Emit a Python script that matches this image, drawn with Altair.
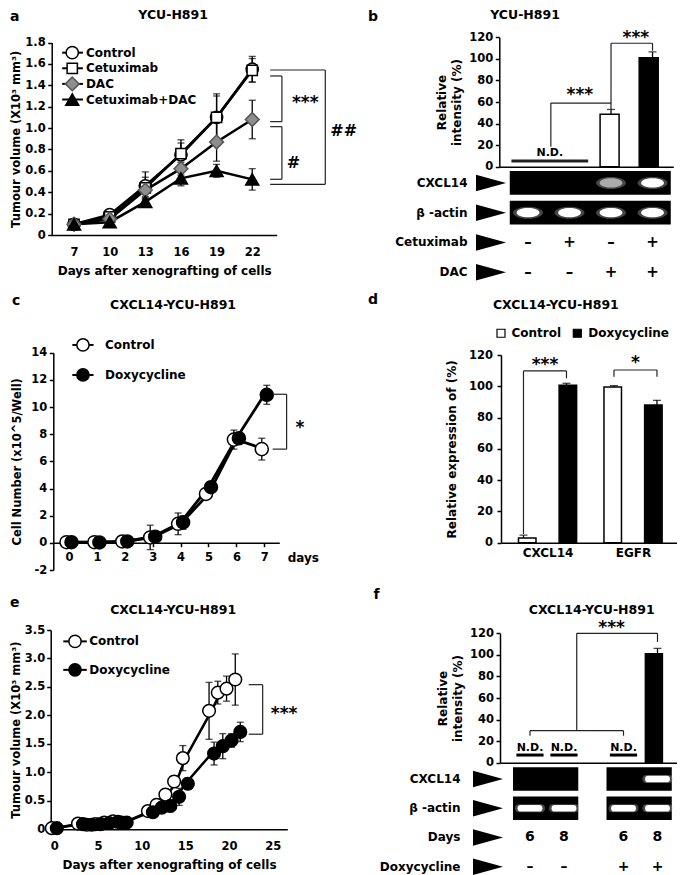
import altair as alt
import pandas as pd

# ---------------- data ----------------
# a: YCU-H891 xenografts
a_days = [7, 10, 13, 16, 19, 22]
a_series = ["Control", "Cetuximab", "DAC", "Cetuximab+DAC"]
a_control = [0.10, 0.19, 0.46, 0.75, 1.10, 1.55]
a_control_err = [0.02, 0.03, 0.13, 0.14, 0.22, 0.12]
a_cetuximab = [0.10, 0.17, 0.44, 0.76, 1.10, 1.54]
a_cetuximab_err = [0.02, 0.03, 0.10, 0.10, 0.20, 0.11]
a_dac = [0.10, 0.15, 0.42, 0.62, 0.87, 1.08]
a_dac_err = [0.02, 0.02, 0.06, 0.06, 0.18, 0.18]
a_combo = [0.10, 0.12, 0.31, 0.53, 0.60, 0.52]
a_combo_err = [0.02, 0.02, 0.04, 0.07, 0.06, 0.10]
a_yticks = [0, 0.2, 0.4, 0.6, 0.8, 1.0, 1.2, 1.4, 1.6, 1.8]

# b: CXCL14 RT-PCR, YCU-H891
b_rows = ["CXCL14", "β -actin", "Cetuximab", "DAC"]
b_cetuximab = ["–", "+", "–", "+"]
b_dac = ["–", "–", "+", "+"]
b_intensity = [None, None, 48.6, 101.0]
b_intensity_err = [None, None, 4.5, 5.5]
b_band_cxcl14 = [0.0, 0.0, 0.7, 1.0]
b_band_actin = [1.0, 1.0, 1.0, 1.0]
pct_ticks = [0, 20, 40, 60, 80, 100, 120]

# c: cell growth in vitro
c_days = [0, 1, 2, 3, 4, 5, 6, 7]
c_series = ["Control", "Doxycycline"]
c_control = [0.05, 0.05, 0.10, 0.40, 1.40, 3.60, 7.60, 6.90]
c_control_err = [0.30, 0.30, 0.40, 0.90, 0.80, 0.30, 0.70, 0.80]
c_doxy = [0.05, 0.03, 0.10, 0.45, 1.50, 4.10, 7.70, 10.90]
c_doxy_err = [0.20, 0.20, 0.20, 0.30, 0.50, 0.30, 0.30, 0.70]
c_yticks = [-2, 0, 2, 4, 6, 8, 10, 12, 14]

# d: relative expression
d_genes = ["CXCL14", "EGFR"]
d_control = [3.0, 99.6]
d_control_err = [1.8, 0.8]
d_doxy = [100.6, 88.0]
d_doxy_err = [1.3, 3.0]

# e: CXCL14-YCU-H891 xenografts
e_days = [0, 3, 4, 5, 6, 7, 8, 11, 12, 13, 14, 15, 18, 19, 20, 21]
e_control = [0.02, 0.10, 0.08, 0.09, 0.12, 0.14, 0.12, 0.32, 0.43, 0.61, 0.84, 1.25, 2.08, 2.40, 2.47, 2.63]
e_control_err = [0.01, 0.02, 0.02, 0.02, 0.02, 0.03, 0.03, 0.05, 0.10, 0.10, 0.10, 0.22, 0.50, 0.20, 0.22, 0.45]
e_doxy = [0.02, 0.09, 0.08, 0.09, 0.11, 0.13, 0.12, 0.30, 0.38, 0.41, 0.57, 0.80, 1.33, 1.46, 1.56, 1.71]
e_doxy_err = [0.01, 0.02, 0.02, 0.02, 0.02, 0.03, 0.03, 0.05, 0.06, 0.10, 0.15, 0.10, 0.20, 0.22, 0.12, 0.17]
e_yticks = [0, 0.5, 1.0, 1.5, 2.0, 2.5, 3.0, 3.5]
e_xticks = [0, 5, 10, 15, 20, 25]

# f: CXCL14 RT-PCR, CXCL14-YCU-H891
f_rows = ["CXCL14", "β -actin", "Days", "Doxycycline"]
f_days = ["6", "8", "6", "8"]
f_doxy = ["–", "–", "+", "+"]
f_intensity = [None, None, None, 101.0]
f_intensity_err = [None, None, None, 5.0]
f_band_cxcl14 = [0.0, 0.0, 0.0, 1.0]
f_band_actin = [1.0, 1.0, 1.0, 1.0]

# ---------------- layout helpers ----------------
W, H = 669, 867
FONT = "DejaVu Sans"
WEDGE = "M-1,-0.55L1,0L-1,0.55Z"
ELLIPSE = "M-1,0A1,0.4,0,1,1,1,0A1,0.4,0,1,1,-1,0Z"
PILL = "M-0.75,-0.27L0.75,-0.27Q1,-0.27 1,0Q1,0.27 0.75,0.27L-0.75,0.27Q-1,0.27 -1,0Q-1,-0.27 -0.75,-0.27Z"
ONE_DEC = "datum.value == 0 ? '0' : format(datum.value, '.1f')"


def px(v):
    return v - 8


def lin(domain, r0, r1):
    return alt.Scale(domain=domain, range=[px(r0), px(r1)], nice=False, zero=False)


def band(domain, r0, r1):
    return alt.Scale(domain=domain, range=[px(r0), px(r1)], paddingInner=0.2, paddingOuter=0.1)


def left_axis(xref, values=None, title=None, **kw):
    d = dict(orient="left", offset=-px(xref), grid=False, title=title)
    if values is not None:
        d["values"] = values
    d.update(kw)
    return alt.Axis(**d)


def bottom_axis(yref, **kw):
    d = dict(orient="bottom", offset=px(yref) - H, grid=False)
    d.update(kw)
    return alt.Axis(**d)


def qx(field, scale, axis=None):
    return alt.X(field, type="quantitative", scale=scale, axis=axis)


def qy(field, scale, axis=None):
    return alt.Y(field, type="quantitative", scale=scale, axis=axis)


def long_table(series, xs, values, errs, xname="day"):
    rows = []
    for s, vs, es in zip(series, values, errs):
        for x, v, e in zip(xs, vs, es):
            rows.append({"series": s, xname: x, "value": v, "lo": v - e, "hi": v + e})
    return pd.DataFrame(rows)


def errbars(df, xf, xs, ys, up_only=False, xoffset=0, cap=7):
    lo = "value" if up_only else "lo"
    rule = alt.Chart(df).mark_rule(color="black", strokeWidth=1.3, xOffset=xoffset).encode(
        x=qx(xf, xs), y=qy(lo, ys), y2="hi:Q")
    fields = ["hi"] if up_only else ["lo", "hi"]
    caps = alt.Chart(df).transform_fold(fields, as_=["k", "cv"]).mark_tick(
        orient="horizontal", color="black", size=cap, thickness=1.3, xOffset=xoffset).encode(
        x=qx(xf, xs), y=qy("cv", ys))
    return [rule, caps]


def segs(seglist, xs, ys, width=1.2):
    df = pd.DataFrame(seglist, columns=["x", "x2", "y", "y2"])
    return alt.Chart(df).mark_rule(color="#222222", strokeWidth=width).encode(
        x=qx("x", xs), x2="x2:Q", y=qy("y", ys), y2="y2:Q")


def rbracket(x0, x1, ytop, ybot):
    return [(x0, x1, ytop, ytop), (x1, x1, ytop, ybot), (x0, x1, ybot, ybot)]


def ubracket(xl, xr, ytop, yl, yr):
    return [(xl, xl, yl, ytop), (xl, xr, ytop, ytop), (xr, xr, ytop, yr)]


def texts(rows, xs, ys, **mark):
    df = pd.DataFrame(rows, columns=["t", "x", "y"])
    return alt.Chart(df).mark_text(**mark).encode(x=qx("x", xs), y=qy("y", ys), text="t:N")


# ---------------- panel a ----------------
xa = lin([5.12, 24.06], 51.7, 276.7)
ya = lin([0, 1.8], 235, 42.5)
a_df = long_table(a_series, a_days, [a_control, a_cetuximab, a_dac, a_combo],
                  [a_control_err, a_cetuximab_err, a_dac_err, a_combo_err])
a_style = {
    "Control": dict(shape="circle", fill="white", stroke="black", size=150),
    "Cetuximab": dict(shape="square", fill="white", stroke="black", size=105),
    "DAC": dict(shape="diamond", fill="#8e8e8e", stroke="#555555", size=190),
    "Cetuximab+DAC": dict(shape="triangle-up", fill="black", stroke="black", size=170),
}
a_layers = [alt.Chart(a_df).mark_line(color="black", strokeWidth=2.5).encode(
    x=qx("day", xa, bottom_axis(235, values=a_days, ticks=False, tickSize=0, labelPadding=11,
                                 title="Days after xenografting of cells", titlePadding=8)),
    y=qy("value", ya, left_axis(51.7, a_yticks, "Tumour volume (X10³ mm³)", labelExpr=ONE_DEC,
                                 tickSize=4, labelPadding=2.5, titlePadding=3, titleFontSize=11.5)),
    detail="series:N")]
a_layers += errbars(a_df, "day", xa, ya)
for s in a_series:
    a_layers.append(alt.Chart(a_df).transform_filter(alt.datum.series == s).mark_point(
        filled=True, opacity=1, strokeWidth=1.5, **a_style[s]).encode(x=qx("day", xa), y=qy("value", ya)))
a_leg = pd.DataFrame({"series": a_series})
a_leg["ly"] = [1.705 - 0.146 * i for i in range(len(a_series))]
a_leg["lx1"], a_leg["lx2"], a_leg["sx"], a_leg["tx"] = 6.0, 7.75, 6.85, 8.0
a_layers.append(alt.Chart(a_leg).mark_rule(color="black", strokeWidth=2).encode(
    x=qx("lx1", xa), x2="lx2:Q", y=qy("ly", ya)))
for s in a_series:
    a_layers.append(alt.Chart(a_leg).transform_filter(alt.datum.series == s).mark_point(
        filled=True, opacity=1, strokeWidth=1.5, **a_style[s]).encode(x=qx("sx", xa), y=qy("ly", ya)))
a_layers.append(alt.Chart(a_leg).mark_text(align="left", baseline="middle", fontSize=12).encode(
    x=qx("tx", xa), y=qy("ly", ya), text="series:N"))
a_layers.append(segs(rbracket(23.51, 24.5, 1.487, 1.06) + rbracket(23.51, 24.5, 1.013, 0.521)
                     + rbracket(23.51, 28.15, 1.543, 0.474), xa, ya))
a_layers.append(texts([("a", 1.62, 2.04)], xa, ya, fontSize=14, align="left"))
a_layers.append(texts([("YCU-H891", 15.34, 2.057)], xa, ya, fontSize=12.5))
a_layers.append(texts([("***", 26.46, 1.277)], xa, ya, fontSize=17, dy=5))
a_layers.append(texts([("#", 25.48, 0.671), ("##", 29.7, 0.97)], xa, ya, fontSize=16))

# ---------------- panel b ----------------
b_lanes = [1, 2, 3, 4]
xb = lin([0.308, 4.501], 499.3, 673.3)
yb = lin([0, 120], 166.7, 37.3)
b_df = pd.DataFrame({"lane": b_lanes, "cetux": b_cetuximab, "dac": b_dac,
                     "value": b_intensity, "err": b_intensity_err})
b_df["hi"] = b_df["value"] + b_df["err"]
b_valid = b_df[b_df["value"].notna()]
b_nd = b_df[b_df["value"].isna()]
b_layers = [alt.Chart(b_valid).mark_bar(width=19, stroke="black", strokeWidth=1.5).encode(
    x=qx("lane", xb, bottom_axis(166.7, labels=False, ticks=False, tickSize=0, title=None)),
    y=qy("value", yb, left_axis(499.3, pct_ticks, ["Relative", "intensity (%)"], tickSize=4,
                                 labelPadding=2.5, titlePadding=5, titleLineHeight=15)),
    y2=alt.Y2(datum=0),
    fill=alt.condition(alt.datum.cetux == "+", alt.value("black"), alt.value("white")))]
b_layers += errbars(b_valid, "lane", xb, yb, up_only=True, cap=8)
nd_x0, nd_x1 = b_nd["lane"].min() - 0.4, b_nd["lane"].max() + 0.45
b_layers.append(segs([(nd_x0, nd_x1, 5.3, 5.3)], xb, yb, width=3))
b_layers.append(texts([("N.D.", (nd_x0 + nd_x1) / 2, 12.4)], xb, yb, fontSize=11))
b_layers.append(segs(ubracket(1.55, 3, 59, 18.5, 52.5) + ubracket(3, 4, 114.5, 59, 107.5), xb, yb))
b_layers.append(texts([("***", 2.25, 71), ("***", 3.6, 123.7)], xb, yb, fontSize=17, dy=5))
b_layers.append(texts([("b", -2.735, 139.0)], xb, yb, fontSize=14))
b_layers.append(texts([("YCU-H891", 0.928, 140.7)], xb, yb, fontSize=12.5))

# gel b
ygb = band(b_rows, 168, 287)
gel_b = pd.DataFrame({"row": b_rows[:2], "x0": b_lanes[0] - 0.44, "x1": b_lanes[-1] + 0.44})
bands_b = pd.DataFrame([{"row": r, "lane": l, "intensity": v}
                        for r, vals in zip(b_rows[:2], [b_band_cxcl14, b_band_actin])
                        for l, v in zip(b_lanes, vals) if v > 0])
arrows_b = pd.DataFrame({"row": b_rows, "ax": 0.108})
signs_b = pd.DataFrame([{"row": r, "lane": l, "t": s}
                        for r, vals in zip(b_rows[2:], [b_cetuximab, b_dac])
                        for l, s in zip(b_lanes, vals)])
gb_layers = [
    alt.Chart(gel_b).mark_rect(color="black").encode(
        x=qx("x0", xb), x2="x1:Q",
        y=alt.Y("row:N", scale=ygb, axis=left_axis(505, title=None, ticks=False, domain=False,
                                                    labelPadding=38, labelFontSize=12))),
    alt.Chart(bands_b).mark_point(shape=ELLIPSE, filled=True, opacity=0.45, color="#9a9a9a", size=900).encode(
        x=qx("lane", xb), y=alt.Y("row:N", scale=ygb, axis=None)),
    alt.Chart(bands_b).mark_point(shape=ELLIPSE, filled=True, opacity=1, size=520, strokeWidth=0).encode(
        x=qx("lane", xb), y=alt.Y("row:N", scale=ygb, axis=None),
        fill=alt.Fill("intensity:Q", scale=alt.Scale(domain=[0, 1], range=["black", "white"]), legend=None)),
    alt.Chart(arrows_b).mark_point(shape=WEDGE, filled=True, opacity=1, color="black", size=900).encode(
        x=qx("ax", xb), y=alt.Y("row:N", scale=ygb, axis=None)),
    alt.Chart(signs_b).mark_text(fontSize=15).encode(
        x=qx("lane", xb), y=alt.Y("row:N", scale=ygb, axis=None), text="t:N"),
]

# ---------------- panel c ----------------
xc = lin([-0.563, 7.538], 53.3, 279.3)
yc = lin([-2, 14], 570, 352.7)
c_df = long_table(c_series, c_days, [c_control, c_doxy], [c_control_err, c_doxy_err])
c_style = {"Control": dict(fill="white", off=-2.5), "Doxycycline": dict(fill="black", off=2.5)}
c_layers = [alt.Chart(c_df).mark_line(color="black", strokeWidth=2.8).encode(
    x=qx("day", xc, bottom_axis(542.7, values=c_days, tickSize=4, labelPadding=5, title=None)),
    y=qy("value", yc, left_axis(53.3, c_yticks, "Cell Number (x10^5/Well)", labelExpr="'' + datum.value",
                                 tickSize=4, labelPadding=2.5, titlePadding=8, titleFontSize=11.5)),
    detail="series:N")]
for s in c_series:
    sub = c_df[c_df["series"] == s]
    c_layers += errbars(sub, "day", xc, yc, xoffset=c_style[s]["off"])
for s in c_series:
    c_layers.append(alt.Chart(c_df).transform_filter(alt.datum.series == s).mark_point(
        shape="circle", filled=True, opacity=1, fill=c_style[s]["fill"], stroke="black", strokeWidth=1.5,
        size=170, xOffset=c_style[s]["off"]).encode(x=qx("day", xc), y=qy("value", yc)))
c_leg = pd.DataFrame({"series": c_series, "ly": [14.57, 12.36]})
c_leg["lx1"], c_leg["lx2"], c_leg["sx"], c_leg["tx"] = 0.12, 0.88, 0.5, 1.29
c_layers.append(alt.Chart(c_leg).mark_rule(color="black", strokeWidth=2).encode(
    x=qx("lx1", xc), x2="lx2:Q", y=qy("ly", yc)))
for s in c_series:
    c_layers.append(alt.Chart(c_leg).transform_filter(alt.datum.series == s).mark_point(
        shape="circle", filled=True, opacity=1, fill=c_style[s]["fill"], stroke="black", strokeWidth=1.5,
        size=150).encode(x=qx("sx", xc), y=qy("ly", yc)))
c_layers.append(alt.Chart(c_leg).mark_text(align="left", baseline="middle", fontSize=12).encode(
    x=qx("tx", xc), y=qy("ly", yc), text="series:N"))
c_layers.append(segs(rbracket(7.3, 7.8, 10.94, 6.9), xc, yc))
c_layers.append(texts([("*", 8.28, 8.8)], xc, yc, fontSize=17, dy=5))
c_layers.append(texts([("days", 8.4, -1.14)], xc, yc, fontSize=12))
c_layers.append(texts([("c", -2.04, 17.81)], xc, yc, fontSize=14, align="left"))
c_layers.append(texts([("CXCL14-YCU-H891", 3.73, 17.51)], xc, yc, fontSize=12.5))

# ---------------- panel d ----------------
xd = lin([-0.486, 1.514], 501, 682)
yd = lin([0, 120], 542.7, 355)
d_off = {"Control": -0.2376, "Doxycycline": 0.2376}
d_rows = []
for s, vals, errs in zip(c_series, [d_control, d_doxy], [d_control_err, d_doxy_err]):
    for g, (v, e) in enumerate(zip(vals, errs)):
        d_rows.append({"series": s, "gene": d_genes[g], "u": g + d_off[s], "value": v, "hi": v + e})
d_df = pd.DataFrame(d_rows)
gene_expr = "[" + ",".join("'" + g + "'" for g in d_genes) + "][datum.value]"
d_layers = [alt.Chart(d_df).mark_bar(width=17.5, stroke="black", strokeWidth=1.5).encode(
    x=qx("u", xd, bottom_axis(542.7, values=list(range(len(d_genes))), labelExpr=gene_expr, ticks=False,
                               tickSize=0, labelPadding=5, labelFontSize=12, title=None)),
    y=qy("value", yd, left_axis(501, pct_ticks, "Relative expression of (%)", tickSize=4,
                                 labelPadding=4.5, titlePadding=10)),
    y2=alt.Y2(datum=0),
    fill=alt.condition(alt.datum.series == "Doxycycline", alt.value("black"), alt.value("white")))]
d_layers += errbars(d_df, "u", xd, yd, up_only=True, cap=8)
d_leg = pd.DataFrame({"series": c_series, "sx": [-0.486, 0.357], "tx": [-0.37, 0.478]})
d_leg["ly"] = 133.9
for s in c_series:
    d_layers.append(alt.Chart(d_leg).transform_filter(alt.datum.series == s).mark_point(
        shape="square", filled=True, opacity=1, fill=c_style[s]["fill"], stroke="black", strokeWidth=1.2,
        size=64).encode(x=qx("sx", xd), y=qy("ly", yd)))
d_layers.append(alt.Chart(d_leg).mark_text(align="left", baseline="middle", fontSize=12).encode(
    x=qx("tx", xd), y=qy("ly", yd), text="series:N"))
d_layers.append(segs(ubracket(-0.2376, 0.2376, 109.8, 5.5, 105.1)
                     + ubracket(0.7624, 1.2376, 110.4, 106.1, 106.1), xd, yd))
d_layers.append(texts([("***", 0.0, 116.8)], xd, yd, fontSize=17, dy=5))
d_layers.append(texts([("*", 1.0, 118.0)], xd, yd, fontSize=17, dy=5))
d_layers.append(texts([("d", -1.9, 155.0)], xd, yd, fontSize=14))
d_layers.append(texts([("CXCL14-YCU-H891", 0.12, 151.9)], xd, yd, fontSize=12.5))

# ---------------- panel e ----------------
xe = lin([-0.412, 26.67], 50.7, 287.3)
ye = lin([0, 3.5], 829.3, 630)
e_df = long_table(c_series, e_days, [e_control, e_doxy], [e_control_err, e_doxy_err])
e_layers = [alt.Chart(e_df).mark_line(color="black", strokeWidth=2.5).encode(
    x=qx("day", xe, bottom_axis(829.3, values=e_xticks, ticks=False, tickSize=0, labelPadding=11,
                                 title="Days after xenografting of cells", titlePadding=8)),
    y=qy("value", ye, left_axis(50.7, e_yticks, "Tumour volume (X10³ mm³)", labelExpr=ONE_DEC,
                                 tickSize=4, labelPadding=2, titlePadding=2.5, titleFontSize=11.5)),
    detail="series:N")]
for s in c_series:
    sub = e_df[e_df["series"] == s]
    e_layers += errbars(sub, "day", xe, ye, xoffset=c_style[s]["off"])
for s in c_series:
    e_layers.append(alt.Chart(e_df).transform_filter(alt.datum.series == s).mark_point(
        shape="circle", filled=True, opacity=1, fill=c_style[s]["fill"], stroke="black", strokeWidth=1.5,
        size=160, xOffset=c_style[s]["off"]).encode(x=qx("day", xe), y=qy("value", ye)))
e_leg = pd.DataFrame({"series": c_series, "ly": [3.30, 2.80]})
e_leg["lx1"], e_leg["lx2"], e_leg["sx"], e_leg["tx"] = 1.03, 3.72, 2.37, 4.0
e_layers.append(alt.Chart(e_leg).mark_rule(color="black", strokeWidth=2).encode(
    x=qx("lx1", xe), x2="lx2:Q", y=qy("ly", ye)))
for s in c_series:
    e_layers.append(alt.Chart(e_leg).transform_filter(alt.datum.series == s).mark_point(
        shape="circle", filled=True, opacity=1, fill=c_style[s]["fill"], stroke="black", strokeWidth=1.5,
        size=150).encode(x=qx("sx", xe), y=qy("ly", ye)))
e_layers.append(alt.Chart(e_leg).mark_text(align="left", baseline="middle", fontSize=12).encode(
    x=qx("tx", xe), y=qy("ly", ye), text="series:N"))
e_layers.append(segs(rbracket(22.25, 23.85, 2.54, 1.67), xe, ye))
e_layers.append(texts([("***", 26.3, 2.12)], xe, ye, fontSize=17, dy=5))
e_layers.append(texts([("e", -5.07, 3.97)], xe, ye, fontSize=14, align="left"))
e_layers.append(texts([("CXCL14-YCU-H891", 13.6, 3.856)], xe, ye, fontSize=12.5))

# ---------------- panel f ----------------
f_lanes = [i + 1 + (0.75 if i >= 2 else 0) for i in range(len(f_days))]
xf = lin([0.118, 5.5], 500, 683)
yf = lin([0, 120], 762.7, 633.3)
f_df = pd.DataFrame({"lane": f_lanes, "value": f_intensity, "err": f_intensity_err})
f_df["hi"] = f_df["value"] + f_df["err"]
f_valid = f_df[f_df["value"].notna()]
f_nd = f_df[f_df["value"].isna()].copy()
f_nd["x0"], f_nd["x1"] = f_nd["lane"] - 0.4, f_nd["lane"] + 0.4
f_nd["ly"], f_nd["ty"] = 7.1, 13.9
f_layers = [alt.Chart(f_valid).mark_bar(width=17, stroke="black", strokeWidth=1.5, fill="black").encode(
    x=qx("lane", xf, bottom_axis(762.7, labels=False, ticks=False, tickSize=0, title=None)),
    y=qy("value", yf, left_axis(500, pct_ticks, ["Relative", "intensity (%)"], tickSize=4,
                                 labelPadding=2.5, titlePadding=5, titleLineHeight=15)),
    y2=alt.Y2(datum=0))]
f_layers += errbars(f_valid, "lane", xf, yf, up_only=True, cap=8)
f_layers.append(alt.Chart(f_nd).mark_rule(color="black", strokeWidth=3).encode(
    x=qx("x0", xf), x2="x1:Q", y=qy("ly", yf)))
f_layers.append(alt.Chart(f_nd).transform_calculate(t="'N.D.'").mark_text(fontSize=11).encode(
    x=qx("lane", xf), y=qy("ty", yf), text="t:N"))
mid = (f_lanes[0] + f_lanes[2]) / 2
f_layers.append(segs(ubracket(f_lanes[0], f_lanes[2], 29.7, 25, 25)
                     + ubracket(mid, f_lanes[3], 120, 29.7, 112), xf, yf))
f_layers.append(texts([("***", 3.40, 129.3)], xf, yf, fontSize=17, dy=5))
f_layers.append(texts([("f", -3.51, 155.5)], xf, yf, fontSize=14))
f_layers.append(texts([("CXCL14-YCU-H891", 2.815, 141.6)], xf, yf, fontSize=12.5))

# gel f
ygf = band(f_rows, 764.4, 881.3)
gel_groups = [(0, 1), (2, 3)]
gel_f = pd.DataFrame([{"row": r, "x0": f_lanes[a] - 0.5, "x1": f_lanes[b] + 0.42}
                      for r in f_rows[:2] for a, b in gel_groups])
bands_f = pd.DataFrame([{"row": r, "lane": l, "intensity": v}
                        for r, vals in zip(f_rows[:2], [f_band_cxcl14, f_band_actin])
                        for l, v in zip(f_lanes, vals) if v > 0])
arrows_f = pd.DataFrame({"row": f_rows, "ax": -0.235})
signs_f = pd.DataFrame([{"row": r, "lane": l, "t": s}
                        for r, vals in zip(f_rows[2:], [f_days, f_doxy])
                        for l, s in zip(f_lanes, vals)])
gf_layers = [
    alt.Chart(gel_f).mark_rect(color="black").encode(
        x=qx("x0", xf), x2="x1:Q",
        y=alt.Y("row:N", scale=ygf, axis=left_axis(503, title=None, ticks=False, domain=False,
                                                    labelPadding=43, labelFontSize=12))),
    alt.Chart(bands_f).mark_point(shape=PILL, filled=True, opacity=0.45, color="#9a9a9a", size=900).encode(
        x=qx("lane", xf), y=alt.Y("row:N", scale=ygf, axis=None)),
    alt.Chart(bands_f).mark_point(shape=PILL, filled=True, opacity=1, size=620, strokeWidth=0).encode(
        x=qx("lane", xf), y=alt.Y("row:N", scale=ygf, axis=None),
        fill=alt.Fill("intensity:Q", scale=alt.Scale(domain=[0, 1], range=["black", "white"]), legend=None)),
    alt.Chart(arrows_f).mark_point(shape=WEDGE, filled=True, opacity=1, color="black", size=900).encode(
        x=qx("ax", xf), y=alt.Y("row:N", scale=ygf, axis=None)),
    alt.Chart(signs_f).mark_text(fontSize=14).encode(
        x=qx("lane", xf), y=alt.Y("row:N", scale=ygf, axis=None), text="t:N"),
]

all_layers = a_layers + b_layers + gb_layers + c_layers + d_layers + e_layers + f_layers + gf_layers

chart = alt.layer(*all_layers).resolve_scale(
    x="independent", y="independent"
).properties(
    width=W, height=H, autosize=alt.AutoSizeParams(type="none"), padding=0
).configure_view(stroke=None).configure_axis(
    labelFont=FONT, labelFontWeight="bold", labelFontSize=11.5, labelColor="black",
    titleFont=FONT, titleFontWeight="bold", titleFontSize=12, titleColor="black",
    domainColor="black", domainWidth=1.5, tickColor="black", tickWidth=1.5,
    labelFlush=False, labelOverlap=False, labelBound=False, grid=False
).configure_text(font=FONT, fontWeight="bold", fontSize=12, color="black")

chart.save("out.html", embed_options={"renderer": "svg", "actions": False})
